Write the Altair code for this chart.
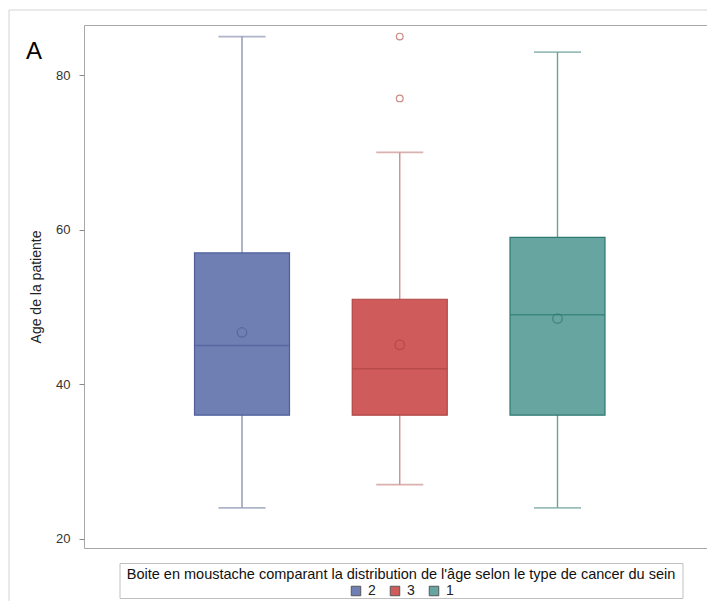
import altair as alt
import pandas as pd

# ---- data ----
groups = ["2", "3", "1"]
whisker_low = [24, 27, 24]
q1 = [36, 36, 36]
median = [45, 42, 49]
q3 = [57, 51, 59]
whisker_high = [85, 70, 83]
mean = [46.7, 45.1, 48.5]
outlier_group = ["3", "3"]
outlier_age = [77, 85]

legend_title = "Boite en moustache comparant la distribution de l'âge selon le type de cancer du sein"
y_title = "Age de la patiente"
panel_label = "A"

# ---- styles ----
fill_colors = ["#6F7EB3", "#D05B5B", "#66A5A0"]
line_colors = ["#4F5F9A", "#B04545", "#2E7A72"]
whisk_colors = ["#8C94B4", "#C99090", "#6FA19C"]
FONT = "Liberation Sans, Arial, sans-serif"

df = pd.DataFrame({
    "group": groups, "low": whisker_low, "q1": q1, "median": median,
    "q3": q3, "high": whisker_high, "mean": mean,
})
out_df = pd.DataFrame({"group": outlier_group, "age": outlier_age})

W, H = 623, 523
xsc = alt.Scale(type="point", padding=0, range=[158, 473.5])
xs = alt.X("group:N", sort=groups, scale=xsc, axis=None)
ysc = alt.Scale(domain=[18.8, 86.5], nice=False, zero=False)

fill_scale = alt.Scale(domain=groups, range=fill_colors)
line_scale = alt.Scale(domain=groups, range=line_colors)
whisk_scale = alt.Scale(domain=groups, range=whisk_colors)

base = alt.Chart(df)

whisk = base.mark_rule(strokeWidth=1.4).encode(
    x=xs,
    y=alt.Y("low:Q", scale=ysc, title=y_title,
            axis=alt.Axis(values=[20, 40, 60, 80], grid=False, domain=False,
                          tickSize=5, tickColor="#888", labelFont=FONT,
                          labelFontSize=13, labelColor="#333", labelPadding=9,
                          titleFont=FONT, titleFontSize=14,
                          titleFontWeight="normal", titleColor="#222",
                          titlePadding=12)),
    y2="high:Q",
    stroke=alt.Stroke("group:N", scale=whisk_scale, legend=None),
)
cap_lo = base.mark_tick(size=47, thickness=1.7).encode(
    x=xs, y=alt.Y("low:Q", scale=ysc),
    color=alt.Color("group:N", scale=whisk_scale, legend=None),
)
cap_hi = base.mark_tick(size=47, thickness=1.7).encode(
    x=xs, y=alt.Y("high:Q", scale=ysc),
    color=alt.Color("group:N", scale=whisk_scale, legend=None),
)
box = base.mark_bar(size=95, strokeWidth=1.2).encode(
    x=xs, y=alt.Y("q1:Q", scale=ysc), y2="q3:Q",
    fill=alt.Fill("group:N", scale=fill_scale,
                  legend=alt.Legend(orient="none", legendX=265, legendY=559,
                                    direction="horizontal", title=None,
                                    symbolType="square", symbolSize=90,
                                    symbolStrokeColor="#555", symbolStrokeWidth=1,
                                    labelFont=FONT, labelFontSize=14,
                                    labelColor="#222", columnPadding=12,
                                    labelOffset=5)),
    stroke=alt.Stroke("group:N", scale=line_scale, legend=None),
)
med = base.mark_tick(size=95, thickness=1.5).encode(
    x=xs, y=alt.Y("median:Q", scale=ysc),
    color=alt.Color("group:N", scale=line_scale, legend=None),
)
mn = base.mark_point(shape="circle", filled=False, size=90, strokeWidth=1.3).encode(
    x=xs, y=alt.Y("mean:Q", scale=ysc),
    color=alt.Color("group:N", scale=line_scale, legend=None),
)
outl = alt.Chart(out_df).mark_point(shape="circle", filled=False, size=45,
                                   strokeWidth=1.2, color="#B45A50").encode(
    x=alt.X("group:N", sort=groups, scale=xsc, axis=None),
    y=alt.Y("age:Q", scale=ysc),
)

one = alt.Data(values=[{"k": 1}])
frame = alt.Chart(one).mark_rect(fill=None, stroke="#d4d4d4", strokeWidth=1).encode(
    x=alt.value(-75), x2=alt.value(700), y=alt.value(-15), y2=alt.value(700))
leg_box = alt.Chart(one).mark_rect(fill=None, stroke="#c0c0c0", strokeWidth=1).encode(
    x=alt.value(36), x2=alt.value(599), y=alt.value(538.5), y2=alt.value(573.5))
leg_title = alt.Chart(one).mark_text(font=FONT, fontSize=14.5, color="#111",
                                     align="center", baseline="middle").encode(
    x=alt.value(317), y=alt.value(550), text=alt.value(legend_title))
lab_a = alt.Chart(one).mark_text(font=FONT, fontSize=24, color="#000",
                                 align="center", baseline="middle").encode(
    x=alt.value(-50), y=alt.value(27), text=alt.value(panel_label))

chart = alt.layer(
    frame, whisk, cap_lo, cap_hi, box, med, mn, outl, leg_box, leg_title, lab_a
).resolve_scale(
    color="independent", stroke="independent"
).properties(
    width=W, height=H,
    autosize=alt.AutoSizeParams(type="none"),
    padding={"left": 76, "top": 17, "right": 0, "bottom": 53},
    background="white",
).configure_view(stroke="#a8a8a8", strokeWidth=1)

chart.save("out.html", embed_options={"renderer": "svg", "actions": False})
